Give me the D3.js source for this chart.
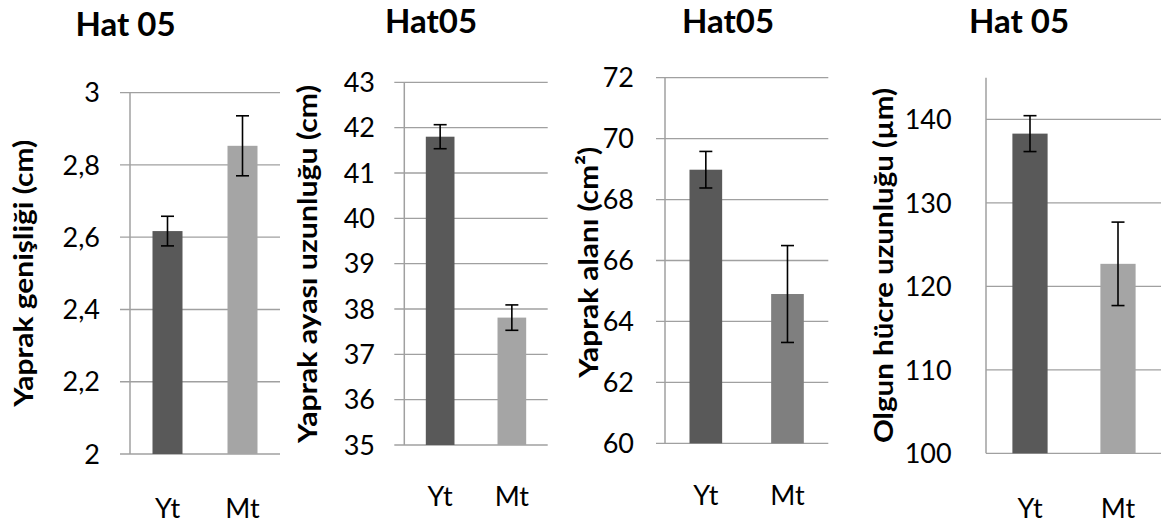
<!DOCTYPE html>
<html>
<head>
<meta charset="utf-8">
<script src="https://cdn.jsdelivr.net/npm/d3@7/dist/d3.min.js"></script>
<style>
  html, body { margin: 0; padding: 0; background: #fff; }
  svg { display: block; }
  text { font-family: Lato, "Open Sans", sans-serif; fill: #000; }
</style>
</head>
<body>
<svg id="chart" width="1161" height="528"></svg>
<script>
// ---- data ----
const categories = ["Yt", "Mt"];
const titles = ["Hat 05", "Hat05", "Hat05", "Hat 05"];
const yLabels = ["Yaprak genişliği (cm)", "Yaprak ayası uzunluğu (cm)", "Yaprak alanı (cm²)", "Olgun hücre uzunluğu (µm)"];
const meansP1 = [2.617, 2.853];
const errorsP1 = [0.041, 0.083];
const meansP2 = [41.8, 37.81];
const errorsP2 = [0.265, 0.28];
const meansP3 = [68.98, 64.9];
const errorsP3 = [0.6, 1.59];
const meansP4 = [138.3, 122.7];
const errorsP4 = [2.15, 5.0];
const domainsY = [[2, 3], [35, 43], [60, 72], [100, 145]];
const ticksP1 = [2, 2.2, 2.4, 2.6, 2.8, 3];
const ticksP2 = [35, 36, 37, 38, 39, 40, 41, 42, 43];
const ticksP3 = [60, 62, 64, 66, 68, 70, 72];
const ticksP4 = [100, 110, 120, 130, 140];
const tickLabelsP1 = ["2", "2,2", "2,4", "2,6", "2,8", "3"];

// ---- layout / style ----
const panels = [
  { means: meansP1, errs: errorsP1, ticks: ticksP1, fmt: (d, i) => tickLabelsP1[i],
    x0: 130, x1: 280, yTop: 92.7, yBot: 454, tickOut: 10, labelRight: 100,
    titleX: 125.5, titleY: 35.7, ylabX: 33.3, ylabY: 273.3, ylabLen: 267, catY: 518,
    colors: ["#595959", "#a5a5a5"] },
  { means: meansP2, errs: errorsP2, ticks: ticksP2, fmt: d => String(d),
    x0: 404.3, x1: 547.7, yTop: 82.3, yBot: 445, tickOut: 10, labelRight: 375,
    titleX: 431, titleY: 33.3, ylabX: 316.7, ylabY: 264, ylabLen: 358, catY: 506,
    colors: ["#595959", "#a5a5a5"] },
  { means: meansP3, errs: errorsP3, ticks: ticksP3, fmt: d => String(d),
    x0: 665, x1: 828.3, yTop: 77.7, yBot: 443.3, tickOut: 9, labelRight: 634,
    titleX: 728, titleY: 33.3, ylabX: 598.3, ylabY: 262.3, ylabLen: 231, catY: 505,
    colors: ["#595959", "#7f7f7f"] },
  { means: meansP4, errs: errorsP4, ticks: ticksP4, fmt: d => String(d),
    x0: 986, x1: 1162, yTop: 77.7, yBot: 453.3, tickOut: 0, labelRight: 951.7,
    titleX: 1019, titleY: 33.3, ylabX: 893.3, ylabY: 265.5, ylabLen: 355, catY: 518,
    colors: ["#595959", "#a5a5a5"] }
];

const svg = d3.select("#chart");
const gridColor = "#a0a0a0";

panels.forEach((p, pi) => {
  const g = svg.append("g");
  const y = d3.scaleLinear().domain(domainsY[pi]).range([p.yBot, p.yTop]);
  const x = d3.scaleBand().domain(categories).range([p.x0, p.x1])
    .paddingInner(0.6).paddingOuter(0.3);

  // gridlines (with outward tick extension)
  g.selectAll("line.grid").data(p.ticks).enter().append("line")
    .attr("x1", p.x0 - p.tickOut).attr("x2", p.x1)
    .attr("y1", d => y(d)).attr("y2", d => y(d))
    .attr("stroke", gridColor).attr("stroke-width", 1.3);

  // y axis line
  g.append("line")
    .attr("x1", p.x0).attr("x2", p.x0)
    .attr("y1", y(domainsY[pi][1])).attr("y2", y(domainsY[pi][0]))
    .attr("stroke", gridColor).attr("stroke-width", 1.5);

  // tick labels
  g.selectAll("text.tick").data(p.ticks).enter().append("text")
    .attr("x", p.labelRight).attr("y", d => y(d))
    .attr("dy", "0.36em")
    .attr("text-anchor", "end")
    .attr("font-size", 27)
    .text((d, i) => p.fmt(d, i));

  // bars
  g.selectAll("rect.bar").data(categories).enter().append("rect")
    .attr("x", d => x(d)).attr("width", x.bandwidth())
    .attr("y", (d, i) => y(p.means[i]))
    .attr("height", (d, i) => y(domainsY[pi][0]) - y(p.means[i]))
    .attr("fill", (d, i) => p.colors[i]);

  // error bars
  const cap = 6.5;
  categories.forEach((c, i) => {
    const cx = x(c) + x.bandwidth() / 2;
    const yH = y(p.means[i] + p.errs[i]);
    const yL = y(p.means[i] - p.errs[i]);
    g.append("line").attr("x1", cx).attr("x2", cx).attr("y1", yH).attr("y2", yL)
      .attr("stroke", "#000").attr("stroke-width", 1.6);
    [yH, yL].forEach(yy => g.append("line")
      .attr("x1", cx - cap).attr("x2", cx + cap).attr("y1", yy).attr("y2", yy)
      .attr("stroke", "#000").attr("stroke-width", 1.6));
  });

  // category labels
  g.selectAll("text.cat").data(categories).enter().append("text")
    .attr("x", d => x(d) + x.bandwidth() / 2).attr("y", p.catY)
    .attr("text-anchor", "middle").attr("font-size", 27)
    .text(d => d);

  // title
  g.append("text").attr("x", p.titleX).attr("y", p.titleY)
    .attr("text-anchor", "middle").attr("font-size", 33).attr("font-weight", "bold")
    .text(titles[pi]);

  // y axis label
  g.append("text")
    .attr("transform", `translate(${p.ylabX},${p.ylabY}) rotate(-90)`)
    .attr("text-anchor", "middle").attr("font-size", 27.5).attr("font-weight", "bold")
    .attr("textLength", p.ylabLen).attr("lengthAdjust", "spacingAndGlyphs")
    .text(yLabels[pi]);
});
</script>
</body>
</html>
